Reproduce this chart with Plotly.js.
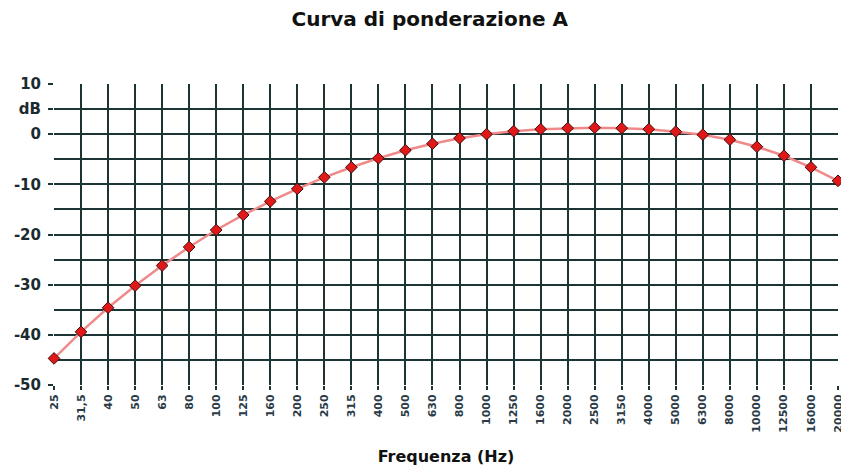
<!DOCTYPE html>
<html>
<head>
<meta charset="utf-8">
<script src="https://cdn.plot.ly/plotly-3.0.1.min.js"></script>
<style>html,body{margin:0;padding:0;background:#fff;}#chart{width:841px;height:468px;}</style>
</head>
<body>
<div id="chart"></div>
<script>
const frequencies = ['25','31,5','40','50','63','80','100','125','160','200','250','315','400','500','630','800','1000','1250','1600','2000','2500','3150','4000','5000','6300','8000','10000','12500','16000','20000'];
const weightingDb = [-44.7,-39.4,-34.6,-30.2,-26.2,-22.5,-19.1,-16.1,-13.4,-10.9,-8.6,-6.6,-4.8,-3.2,-1.9,-0.8,0,0.6,1.0,1.2,1.3,1.2,1.0,0.5,-0.1,-1.1,-2.5,-4.3,-6.6,-9.3];
const yTickVals = [10,5,0,-10,-20,-30,-40,-50];
const yTickText = ['10','dB','0','-10','-20','-30','-40','-50'];

const gridCol = '#1c3434';
const fam = '"DejaVu Sans", Verdana, sans-serif';
const trace = {
  x: frequencies,
  y: weightingDb,
  type: 'scatter',
  mode: 'lines+markers',
  line: {color: '#f08a8a', width: 2.5},
  marker: {symbol: 'diamond', size: 9, color: '#e01818', line: {color: '#3a1010', width: 1}},
  cliponaxis: false,
  hoverinfo: 'x+y'
};
const layout = {
  width: 841, height: 468,
  margin: {l: 54, r: 3, t: 84, b: 83},
  paper_bgcolor: '#ffffff', plot_bgcolor: '#ffffff',
  font: {family: fam, color: '#1a2a2e'},
  title: {text: '<b>Curva di ponderazione A</b>', x: 0.511, xanchor: 'center', y: 0.96, yanchor: 'middle', font: {family: fam, size: 20, color: '#111'}},
  showlegend: false,
  xaxis: {
    type: 'category',
    range: [0, frequencies.length - 1],
    showgrid: true, gridcolor: gridCol, gridwidth: 2,
    zeroline: false, showline: false,
    ticks: 'outside', ticklen: 4, tickcolor: gridCol, tickwidth: 2,
    tickangle: -90,
    tickfont: {size: 11, color: '#2a3a46', family: fam, weight: 'bold'},
    title: {text: '<b>Frequenza (Hz)</b>', font: {family: fam, size: 16, color: '#111'}, standoff: 19},
    fixedrange: true
  },
  yaxis: {
    range: [-50, 10],
    tickmode: 'array', tickvals: yTickVals, ticktext: yTickText,
    showgrid: true, gridcolor: gridCol, gridwidth: 2,
    minor: {dtick: 5, tick0: 0, showgrid: true, gridcolor: gridCol, gridwidth: 2, ticks: ''},
    zeroline: false, showline: false,
    ticks: 'outside', ticklen: 5, tickcolor: gridCol, tickwidth: 2,
    ticklabelstandoff: 4,
    tickfont: {size: 15, color: '#1a2a2e', family: fam, weight: 'bold'},
    fixedrange: true
  }
};
Plotly.newPlot('chart', [trace], layout, {displayModeBar: false, staticPlot: true});
</script>
</body>
</html>
